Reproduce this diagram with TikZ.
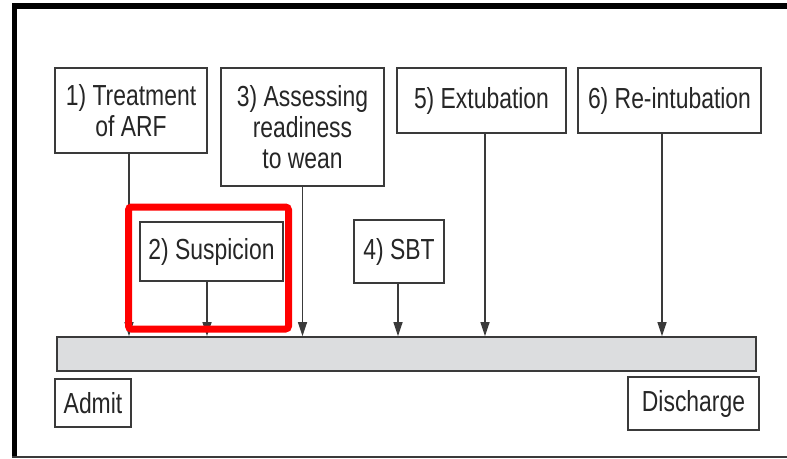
\documentclass[tikz,border=0pt]{standalone}
\usepackage{fontspec}
\setmainfont{Liberation Sans}[FakeStretch=0.79]
\usepackage{tikz}
\usetikzlibrary{arrows.meta,positioning}
\definecolor{boxgray}{HTML}{3A3A3A}
\definecolor{barfill}{HTML}{DCDDDF}

\begin{document}
\begin{tikzpicture}[
    x=1pt, y=-1pt,
    >={Triangle[length=14pt,width=9pt]},
    block/.style={rectangle, draw=boxgray, line width=1.6pt, fill=white,
                  inner sep=0pt, align=center, text=black!85,
                  font=\fontsize{29}{31}\selectfont},
    arr/.style={->, line width=1.3pt, draw=boxgray, fill=black}
]
    \useasboundingbox (0,0) rectangle (787,458);

    % frame of the screenshot
    \fill[black] (12,3) rectangle (787,9);
    \fill[black] (12,3) rectangle (17,458);
    \draw[boxgray, line width=1.5pt] (12,457) -- (787,457);

    % time line
    \node[block, fill=barfill, minimum width=699pt, minimum height=34pt] (bar) at (406.5,354) {};

    \node[block, minimum width=152pt, minimum height=85pt]  (treat)  at (131,110.5)   {1) Treatment\\of ARF};
    \node[block, minimum width=143pt, minimum height=59pt]  (susp)   at (211.5,251.5) {2) Suspicion};
    \node[block, minimum width=163pt, minimum height=118pt] (assess) at (302.5,127)   {3) Assessing\\readiness\\to wean};
    \node[block, minimum width=90pt,  minimum height=63pt]  (sbt)    at (399,251.5)   {4) SBT};
    \node[block, minimum width=169pt, minimum height=65pt]  (extub)  at (481.5,100.5) {5) Extubation};
    \node[block, minimum width=183pt, minimum height=65pt]  (reint)  at (669.5,100.5) {6) Re-intubation};

    \node[block, minimum width=76pt,  minimum height=48pt]  (admit)  at (93,403)      {Admit};
    \node[block, minimum width=131pt, minimum height=53pt]  (disch)  at (693.5,403.5) {Discharge};

    \draw[arr] ([xshift=-2pt]treat.south) -- ([xshift=-2pt]treat.south |- bar.north);
    \draw[arr] ([xshift=-4.5pt]susp.south) -- ([xshift=-4.5pt]susp.south |- bar.north);
    \draw[arr] (assess.south) -- (assess.south |- bar.north);
    \draw[arr] ([xshift=-1pt]sbt.south) -- ([xshift=-1pt]sbt.south |- bar.north);
    \draw[arr] ([xshift=3.5pt]extub.south) -- ([xshift=3.5pt]extub.south |- bar.north);
    \draw[arr] ([xshift=-7.5pt]reint.south) -- ([xshift=-7.5pt]reint.south |- bar.north);

    % highlight
    \draw[red, line width=7pt, rounded corners=3pt] (128.5,207) rectangle (288.5,329);
\end{tikzpicture}
\end{document}
